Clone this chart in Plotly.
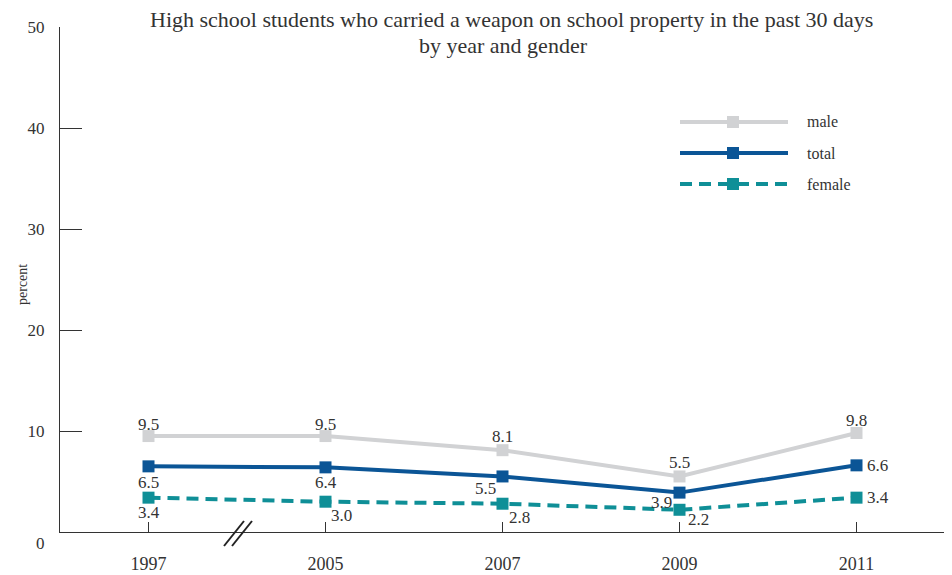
import plotly.graph_objects as go

years = ["1997", "2005", "2007", "2009", "2011"]
male = [9.5, 9.5, 8.1, 5.5, 9.8]
total = [6.5, 6.4, 5.5, 3.9, 6.6]
female = [3.4, 3.0, 2.8, 2.2, 3.4]
y_ticks = [10, 20, 30, 40, 50]
title_lines = ["High school students who carried a weapon on school property in the past 30 days",
               "by year and gender"]

# label offsets (px) relative to each point
series = [
    dict(name="male", values=male, color="#d1d2d4", dash="solid",
         dx=[0, 0, 0, 0, 0], dy=[12, 12, 14, 14, 13]),
    dict(name="total", values=total, color="#0b5596", dash="solid",
         dx=[0, 0, -17, -18, 21], dy=[-16, -15, -12, -10, 0]),
    dict(name="female", values=female, color="#0f8f97", dash="12px,7px",
         dx=[0, 16, 17, 19, 21], dy=[-15, -14, -14, -10, 0]),
]

FONT = "Liberation Serif"
TXT = "#333333"

fig = go.Figure()
annotations = []
for s in series:
    fig.add_trace(go.Scatter(
        x=years, y=s["values"], name=s["name"], mode="lines+markers",
        line=dict(color=s["color"], width=4, dash=s["dash"]),
        marker=dict(symbol="square", size=12, color=s["color"]),
        showlegend=False, cliponaxis=False,
    ))
    for i, (v, dx, dy) in enumerate(zip(s["values"], s["dx"], s["dy"])):
        annotations.append(dict(x=i, y=v, xref="x", yref="y", text=f"{v:.1f}",
                                showarrow=False, xshift=dx, yshift=dy,
                                xanchor="center", yanchor="middle",
                                font=dict(family=FONT, size=17, color=TXT)))

# The page body has an 8px margin: the figure is laid out 8px smaller and
# the reference pixel positions below are page pixels.
OFF = 8
W, H = 952 - OFF, 575 - OFF
L, T = 60 - OFF, 27 - OFF
R = W - (945 - OFF)
B = H - (532 - OFF)

# paper-coordinate helpers (page plot area: x 60..945, y 27..532)
def px(x):
    return (x - 60) / 885.0
def py(y):
    return (532 - y) / 505.0

shapes = []
# manual legend
for i, s in enumerate(series):
    yy = 122 + 31 * i
    shapes.append(dict(type="line", xref="paper", yref="paper",
                       x0=px(680), x1=px(788), y0=py(yy), y1=py(yy),
                       line=dict(color=s["color"], width=4, dash=s["dash"])))
    shapes.append(dict(type="rect", xref="paper", yref="paper",
                       x0=px(727), x1=px(739), y0=py(yy + 6), y1=py(yy - 6),
                       fillcolor=s["color"], line=dict(width=0)))
    annotations.append(dict(xref="paper", yref="paper", x=px(805), y=py(yy),
                            text=s["name"], showarrow=False, xanchor="left",
                            yanchor="middle",
                            font=dict(family=FONT, size=16, color=TXT)))

# axis break marks
for dx in (0, 8):
    shapes.append(dict(type="line", xref="paper", yref="paper",
                       x0=px(224 + dx), y0=py(546), x1=px(244 + dx), y1=py(521),
                       line=dict(color="#222222", width=2)))

# "0" label on y axis
annotations.append(dict(xref="paper", yref="paper", x=px(47), y=py(543),
                        text="0", showarrow=False, xanchor="right", yanchor="middle",
                        font=dict(family=FONT, size=17, color=TXT)))
# y axis title
annotations.append(dict(xref="paper", yref="paper", x=px(22), y=py(285),
                        text="percent", showarrow=False, textangle=-90,
                        xanchor="center", yanchor="middle",
                        font=dict(family=FONT, size=14, color=TXT)))
# chart title (two lines)
for line, cx, cy in zip(title_lines, (511, 503), (20, 45)):
    annotations.append(dict(xref="paper", yref="paper", x=px(cx), y=py(cy),
                            text=line, showarrow=False, xanchor="center",
                            yanchor="middle",
                            font=dict(family=FONT, size=22, color=TXT)))

fig.update_layout(
    width=W, height=H,
    margin=dict(l=L, r=R, t=T, b=B, pad=0),
    paper_bgcolor="white", plot_bgcolor="white",
    shapes=shapes, annotations=annotations,
    showlegend=False,
)
fig.update_xaxes(
    type="category", range=[-0.5, 4.5], automargin=False,
    showline=True, linecolor="#333333", linewidth=1,
    ticks="inside", ticklen=10, tickcolor="#333333", tickwidth=1,
    showgrid=False, zeroline=False,
    tickfont=dict(family=FONT, size=18, color=TXT),
    ticklabelstandoff=15,
)
fig.update_yaxes(
    range=[0, 50], tickvals=y_ticks, automargin=False,
    showline=True, linecolor="#333333", linewidth=1,
    ticks="inside", ticklen=22, tickcolor="#333333", tickwidth=1,
    showgrid=False, zeroline=False,
    tickfont=dict(family=FONT, size=17, color=TXT),
    ticklabelstandoff=11,
)

fig.write_html("out.html")
